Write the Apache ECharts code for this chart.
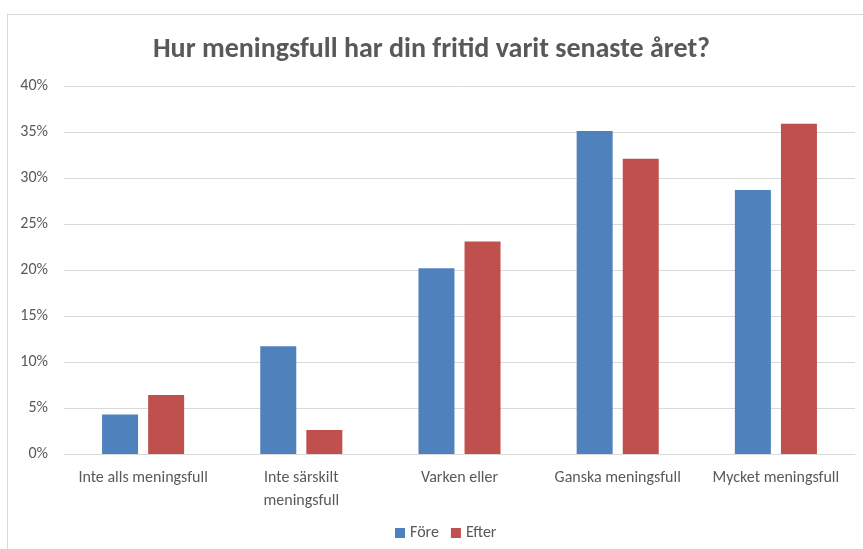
<!DOCTYPE html>
<html>
<head>
<meta charset="utf-8">
<script src="https://cdn.jsdelivr.net/npm/echarts@6/dist/echarts.min.js"></script>
<style>
  html, body { margin: 0; padding: 0; background: #fff; }
  #frame {
    position: absolute; left: 7px; top: 14px; width: 870px; height: 550px;
    border-left: 1px solid #d9d9d9; border-top: 1px solid #d9d9d9;
  }
  #chart { position: absolute; left: 0; top: 0; width: 863px; height: 549px; }
</style>
</head>
<body>
<div id="frame"></div>
<div id="chart"></div>
<script>
var categories = ["Inte alls meningsfull", "Inte särskilt\nmeningsfull", "Varken eller", "Ganska meningsfull", "Mycket meningsfull"];
var fore = [4.3, 11.7, 20.2, 35.1, 28.7];
var efter = [6.4, 2.6, 23.1, 32.1, 35.9];
var seriesNames = ["Före", "Efter"];

var font = "Carlito, 'Open Sans', 'Noto Sans', sans-serif";
var myChart = echarts.init(document.getElementById("chart"));
var option = {
  animation: false,
  title: {
    text: "Hur meningsfull har din fritid varit senaste året?",
    left: "center",
    top: 31,
    textStyle: { fontFamily: font, fontSize: 28, fontWeight: "bold", color: "#595959" },
  },
  legend: {
    bottom: 3,
    left: 390,
    itemWidth: 10,
    itemHeight: 10,
    itemGap: 12,
    icon: "rect",
    textStyle: { fontFamily: font, fontSize: 16, color: "#595959" },
    data: seriesNames,
  },
  grid: { left: 64, right: 8, top: 86, bottom: 95 },
  xAxis: {
    type: "category",
    data: categories,
    axisTick: { show: false },
    axisLine: { lineStyle: { color: "#d9d9d9", width: 1 } },
    axisLabel: { fontFamily: font, fontSize: 16, color: "#595959", margin: 12, lineHeight: 23, interval: 0 },
  },
  yAxis: {
    type: "value",
    min: 0,
    max: 40,
    interval: 5,
    axisLabel: { formatter: "{value}%", fontFamily: font, fontSize: 16, color: "#595959", margin: 16 },
    axisLine: { show: false },
    axisTick: { show: false },
    splitLine: { lineStyle: { color: "#d9d9d9", width: 1 } },
  },
  series: [
    {
      name: seriesNames[0],
      type: "bar",
      data: fore,
      barWidth: 36,
      barGap: "28%",
      itemStyle: { color: "#4f81bd" },
    },
    {
      name: seriesNames[1],
      type: "bar",
      data: efter,
      barWidth: 36,
      itemStyle: { color: "#c0504d" },
    },
  ],
};
option && myChart.setOption(option);
</script>
</body>
</html>
